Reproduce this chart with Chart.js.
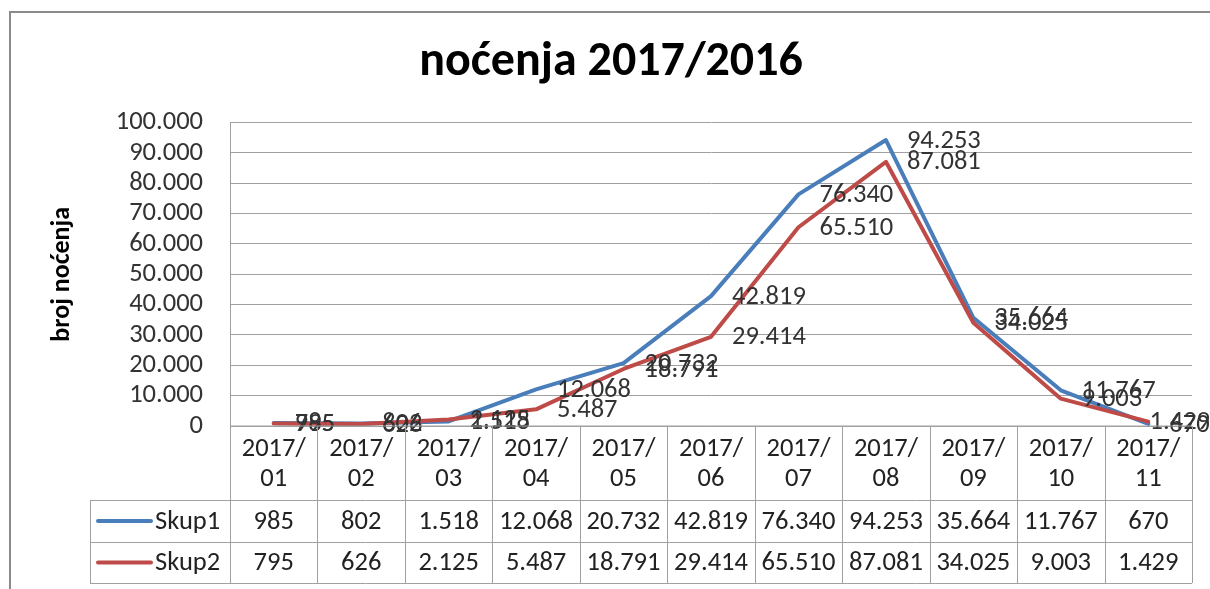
<!DOCTYPE html>
<html>
<head>
<meta charset="utf-8">
<script src="https://cdn.jsdelivr.net/npm/chart.js@4.4.0/dist/chart.umd.min.js"></script>
<style>
body{margin:0;overflow:hidden;background:#fff;}
#okvir{position:absolute;left:9px;top:11px;width:1230px;height:620px;border:2px solid #8a8a8a;}
#myChart{position:absolute;left:0;top:0;}
</style>
</head>
<body>
<div id="okvir"></div>
<canvas id="myChart" width="1210" height="589"></canvas>
<script>
const kategorije = ['2017/01','2017/02','2017/03','2017/04','2017/05','2017/06','2017/07','2017/08','2017/09','2017/10','2017/11'];
const skup1 = [985, 802, 1518, 12068, 20732, 42819, 76340, 94253, 35664, 11767, 670];
const skup2 = [795, 626, 2125, 5487, 18791, 29414, 65510, 87081, 34025, 9003, 1429];
const nazivi = ['Skup1', 'Skup2'];
const yOznake = ['0','10.000','20.000','30.000','40.000','50.000','60.000','70.000','80.000','90.000','100.000'];

const pismo = 'Carlito, Lato, sans-serif';
const boje = ['#4A7EBB', '#BE4B48'];
const sivaLinija = '#a0a0a0';
const velicina = 26.5;

// 12068 -> 12.068
function formatiraj(v){
    return v.toString().replace(/\B(?=(\d{3})+(?!\d))/g, '.');
}

// oznake vrijednosti desno od tocke
const oznakePlugin = {
    id: 'oznake',
    afterDatasetsDraw(chart){
        const ctx = chart.ctx;
        ctx.save();
        ctx.font = velicina + 'px ' + pismo;
        ctx.fillStyle = '#333';
        ctx.textBaseline = 'middle';
        ctx.textAlign = 'left';
        chart.data.datasets.forEach((ds, d) => {
            chart.getDatasetMeta(d).data.forEach((pt, i) => {
                const txt = formatiraj(ds.data[i]);
                const w = ctx.measureText(txt).width;
                let x = pt.x + 21;
                if(x + w > chart.width){
                    x = chart.width - w;
                }
                ctx.fillText(txt, x, pt.y + 1);
            });
        });
        ctx.restore();
    }
};

// tablica podataka ispod grafa
const tablicaPlugin = {
    id: 'tablica',
    afterDraw(chart){
        const ctx = chart.ctx;
        const xs = chart.scales.x;
        const area = chart.chartArea;
        const vrh = area.bottom;
        const red1 = 500, red2 = 542, dno = 583;
        const lijevo = 90;

        ctx.save();
        ctx.strokeStyle = sivaLinija;
        ctx.lineWidth = 1;

        // vodoravne linije
        ctx.beginPath();
        ctx.moveTo(area.left, vrh); ctx.lineTo(area.right, vrh);
        [red1, red2, dno].forEach(y => {
            ctx.moveTo(lijevo, y + 0.5); ctx.lineTo(area.right, y + 0.5);
        });
        // okomite linije
        for(let i = 0; i <= kategorije.length; i++){
            const x = Math.round(xs.getPixelForValue(i - 0.5)) + 0.5;
            ctx.moveTo(x, vrh); ctx.lineTo(x, dno);
        }
        ctx.moveTo(lijevo + 0.5, red1); ctx.lineTo(lijevo + 0.5, dno);
        ctx.stroke();

        ctx.fillStyle = '#222';
        ctx.font = velicina + 'px ' + pismo;
        ctx.textAlign = 'center';
        ctx.textBaseline = 'middle';

        // zaglavlje
        kategorije.forEach((k, i) => {
            const x = xs.getPixelForValue(i);
            const dijelovi = k.split('/');
            ctx.fillText(dijelovi[0] + '/', x, 449);
            ctx.fillText(dijelovi[1], x, 479);
        });

        // redovi
        const redovi = [skup1, skup2];
        const sredine = [(red1 + red2) / 2, (red2 + dno) / 2];
        redovi.forEach((r, j) => {
            ctx.textAlign = 'center';
            r.forEach((v, i) => {
                ctx.fillText(formatiraj(v), xs.getPixelForValue(i), sredine[j] + 1);
            });
            // legenda
            ctx.strokeStyle = boje[j];
            ctx.lineWidth = 4;
            ctx.lineCap = 'round';
            ctx.beginPath();
            ctx.moveTo(98, sredine[j]); ctx.lineTo(151, sredine[j]);
            ctx.stroke();
            ctx.textAlign = 'left';
            ctx.fillText(nazivi[j], 155, sredine[j] + 1);
        });
        ctx.restore();
    }
};

function graficos(){
    const ctx = document.getElementById('myChart').getContext('2d');
    new Chart(ctx, {
        type: 'line',
        data: {
            labels: kategorije,
            datasets: [{
                label: nazivi[0],
                data: skup1,
                borderColor: boje[0],
                borderWidth: 4,
                order: 1
            },{
                label: nazivi[1],
                data: skup2,
                borderColor: boje[1],
                borderWidth: 4,
                order: 0
            }]
        },
        options: {
            responsive: false,
            animation: false,
            layout: {
                padding: {left: 30, right: 18, top: 0, bottom: 163}
            },
            elements: {
                point: {radius: 0},
                line: {tension: 0, borderCapStyle: 'round', borderJoinStyle: 'round'}
            },
            plugins: {
                legend: {display: false},
                tooltip: {enabled: false},
                title: {
                    display: true,
                    text: 'noćenja 2017/2016',
                    color: '#000',
                    font: {family: pismo, size: 48, weight: 'bold'},
                    padding: {top: 34, bottom: 31}
                }
            },
            scales: {
                x: {
                    display: false,
                    offset: true
                },
                y: {
                    min: 0,
                    max: 100000,
                    ticks: {
                        stepSize: 10000,
                        autoSkip: false,
                        padding: 27,
                        color: '#333',
                        font: {family: pismo, size: velicina},
                        callback: (v, i) => yOznake[i]
                    },
                    grid: {color: sivaLinija, drawTicks: false},
                    border: {color: sivaLinija},
                    title: {
                        display: true,
                        text: 'broj noćenja',
                        color: '#000',
                        font: {family: pismo, size: 26, weight: 'bold'},
                        padding: {top: 17, bottom: 0}
                    },
                    afterFit: (scale) => { scale.width = 200; }
                }
            }
        },
        plugins: [oznakePlugin, tablicaPlugin]
    });
}

window.addEventListener('load', graficos);
</script>
</body>
</html>
